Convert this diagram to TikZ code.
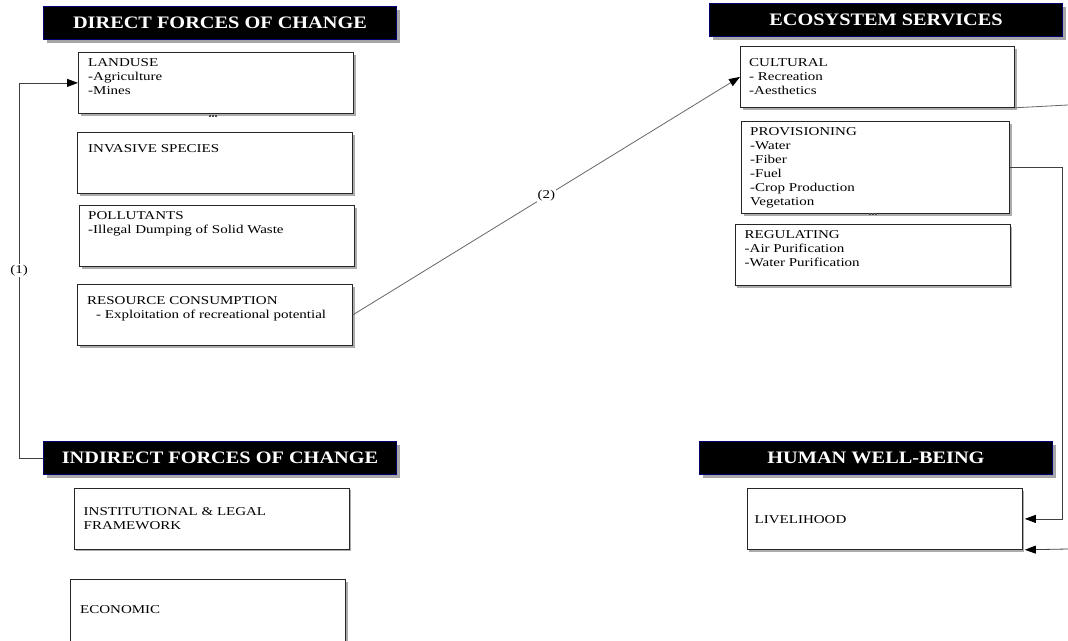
\documentclass[tikz,border=0pt]{standalone}
\usepackage{fontspec}
\setmainfont[FakeStretch=1.25]{Liberation Serif}
\newfontfamily\headfont[FakeStretch=1.16]{Liberation Serif}
\usetikzlibrary{arrows.meta,shadows}

\begin{document}
\begin{tikzpicture}[x=1pt,y=-1pt,
  header/.style={draw=blue!45!black, line width=1pt, fill=black, text=white,
    font=\headfont\fontsize{17.5}{20}\bfseries\selectfont,
    anchor=north west, inner sep=0pt, minimum width=353pt, minimum height=33pt,
    drop shadow={shadow xshift=3pt, shadow yshift=-3pt, fill=gray!70, opacity=1}},
  box/.style={draw=black!85, line width=0.8pt, fill=white, anchor=north west,
    inner sep=0pt, minimum width=275pt, minimum height=61pt,
    drop shadow={shadow xshift=2.5pt, shadow yshift=-2.5pt, fill=gray!65, opacity=1}},
  txt/.style={anchor=north west, inner sep=0pt, align=left,
    font=\fontsize{12}{14}\selectfont},
  conn/.style={draw=black!75, line width=0.8pt},
  tip/.style={-{Triangle[length=11pt,width=8pt,color=black]}},
  lbl/.style={fill=white, inner sep=1pt, font=\fontsize{12}{14}\selectfont},
  dots/.style={fill=black!70}
]
\useasboundingbox (0,0) rectangle (1068,640);

% ---------- headers ----------
\node[header] (direct)   at (43,6)   {DIRECT FORCES OF CHANGE};
\node[header] (eco)      at (709,3)  {ECOSYSTEM SERVICES};
\node[header] (indirect) at (43,441) {INDIRECT FORCES OF CHANGE};
\node[header] (human)    at (699,441){HUMAN WELL-BEING};

% ---------- direct forces ----------
\node[box] (landuse) at (78,52) {};
\node[txt, xshift=10pt, yshift=-6pt] (landuse-t) at (landuse.north west)
  {LANDUSE\\-Agriculture\\-Mines};

\node[box] (invasive) at (77,132) {};
\node[txt, xshift=11pt, yshift=-12pt] (invasive-t) at (invasive.north west)
  {INVASIVE SPECIES};

\node[box] (pollutants) at (79,205) {};
\node[txt, xshift=9pt, yshift=-6pt] (pollutants-t) at (pollutants.north west)
  {POLLUTANTS\\-Illegal Dumping of Solid Waste};

\node[box] (resource) at (77,284) {};
\node[txt, xshift=10pt, yshift=-12pt] (resource-t) at (resource.north west)
  {RESOURCE CONSUMPTION\\\hspace*{9pt}- Exploitation of recreational potential};

% ---------- indirect forces ----------
\node[box] (instit) at (73.5,487.5) {};
\node[txt, xshift=10pt, yshift=-19.5pt] (instit-t) at (instit.north west)
  {INSTITUTIONAL \& LEGAL\\FRAMEWORK};

\node[box, minimum height=72pt] (economic) at (70,579) {};
\node[txt, xshift=10pt, yshift=-26pt] (economic-t) at (economic.north west)
  {ECONOMIC};

% ---------- ecosystem services ----------
\node[box, minimum width=274pt] (cultural) at (740,46) {};
\node[txt, xshift=9pt, yshift=-12pt] (cultural-t) at (cultural.north west)
  {CULTURAL\\- Recreation\\-Aesthetics};

\node[box, minimum width=268pt, minimum height=92pt] (provisioning) at (741,121) {};
\node[txt, xshift=9pt, yshift=-6.5pt] (provisioning-t) at (provisioning.north west)
  {PROVISIONING\\-Water\\-Fiber\\-Fuel\\-Crop Production\\Vegetation};

\node[box, minimum width=275pt] (regulating) at (734.5,224) {};
\node[txt, xshift=10pt, yshift=-6pt] (regulating-t) at (regulating.north west)
  {REGULATING\\-Air Purification\\-Water Purification};

% ---------- human well-being ----------
\node[box] (livelihood) at (746.5,488) {};
\node[txt, xshift=8pt, yshift=-27.5pt] (livelihood-t) at (livelihood.north west)
  {LIVELIHOOD};

% small continuation marks under two boxes
\foreach \x in {-3,0,3} {
  \fill[dots] (213+\x-1,114.5) rectangle ++(2,2);
  \fill[dots] (873+\x-1,212.5) rectangle ++(2,2);
}

% ---------- connectors ----------
\draw[conn, tip] (indirect.west) -- ++(-24pt,0) |- (landuse.west)
  node[lbl, pos=0.25] (l1) {(1)};

\draw[conn, draw=black!60, tip] (resource.east) -- (cultural.west)
  node[lbl, pos=0.5] (l2) {(2)};

\draw[conn, tip] (provisioning.east) -- ++(53pt,0) |- ([xshift=2.5pt]livelihood.east);

\coordinate (outA) at (1068,105);
\draw[conn, draw=black!60] (cultural.south east) -- (outA);

\coordinate (outB) at (1068,549);
\draw[conn, tip] (outB) -- ([xshift=2.5pt]livelihood.south east);

\end{tikzpicture}
\end{document}
